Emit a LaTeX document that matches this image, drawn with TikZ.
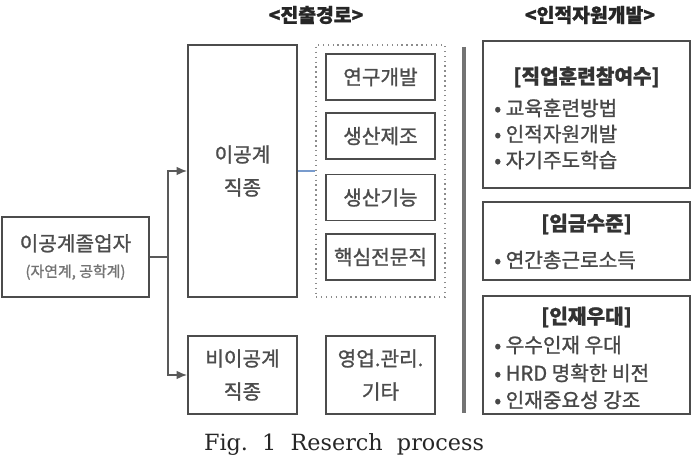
\documentclass[tikz,border=0pt]{standalone}
\usepackage{fontspec}
\setmainfont{Noto Sans CJK KR}[FakeBold=1.2]
\newfontfamily\capfont{DejaVu Serif}
\usetikzlibrary{arrows.meta}
\definecolor{linkblue}{RGB}{120,155,205}

\begin{document}
\begin{tikzpicture}
[
    x=0.02cm, y=-0.02cm,
    box/.style={draw=black!70, line width=1pt, inner sep=0pt, align=center,
        text=black!70, font=\fontsize{11.5pt}{18.8pt}\selectfont},
    small box/.style={box, minimum width=2.18cm},
    info box/.style={box, minimum width=4.14cm},
    title/.style={font=\fontsize{11pt}{13pt}\selectfont\bfseries, text=black!85},
    head/.style={font=\fontsize{11.5pt}{14pt}\selectfont\bfseries, text=black!80},
    item/.style={anchor=west, inner sep=0pt, font=\fontsize{11.5pt}{14pt}\selectfont, text=black!72},
    link/.style={draw=black!65, line width=1pt},
]
\useasboundingbox (0,0) rectangle (698,462);

% column titles
\node[title] (routeT) at (316,15) {<진출경로>};
\node[title] (hrdT) at (590,15) {<인적자원개발>};

% graduates and the two job groups
\node[box, minimum width=2.94cm, minimum height=1.6cm] (grad) at (75.5,257)
    {이공계졸업자\\[-4pt]{\fontsize{8.5pt}{10pt}\selectfont\color{black!55}(자연계, 공학계)}};
\node[small box, minimum height=5.04cm] (sci) at (242.5,171) {이공계\\직종};
\node[small box, minimum height=1.56cm] (nonsci) at (242.5,375) {비이공계\\직종};

% career paths
\node[draw=black!45, dotted, line width=0.8pt, minimum width=2.58cm, minimum height=5.04cm] (paths) at (380.5,171) {};
\node[small box, minimum height=0.92cm] (rd) at (380.5,77) {연구개발};
\node[small box, minimum height=0.92cm] (mfg) at (380.5,136) {생산제조};
\node[small box, minimum height=0.92cm] (tech) at (380.5,197.5) {생산기능};
\node[small box, minimum height=0.92cm] (expert) at (380.5,257) {핵심전문직};
\node[small box, minimum height=1.56cm] (sales) at (380.5,375) {영업.관리.\\기타};

\coordinate (fork) at (168,257);
\draw[link] (grad.east) -- (fork);
\draw[link, -{Latex[length=6pt,width=5pt]}] (fork) |- (sci.west);
\draw[link, -{Latex[length=6pt,width=5pt]}] (fork) |- (nonsci.west);
\draw[draw=linkblue, line width=1pt] (sci.east) -- (paths.west);

% divider
\coordinate (divTop) at (464,47);
\coordinate (divBot) at (464,413);
\draw[draw=black!55, line width=2pt] (divTop) -- (divBot);

% human resource development
\node[info box, minimum height=2.94cm] (train) at (586.5,114.5) {};
\node[head] (trainH) at (586.5,77) {[직업훈련참여수]};
\node[item] (train1) at (494,108) {•\ 교육훈련방법};
\node[item] (train2) at (494,134) {•\ 인적자원개발};
\node[item] (train3) at (494,160) {•\ 자기주도학습};

\node[info box, minimum height=1.56cm] (wage) at (586.5,241) {};
\node[head] (wageH) at (586.5,224) {[임금수준]};
\node[item] (wage1) at (494,260) {•\ 연간총근로소득};

\node[info box, minimum height=2.36cm] (talent) at (586.5,355) {};
\node[head] (talentH) at (586.5,317) {[인재우대]};
\node[item] (talent1) at (494,345) {•\ 우수인재 우대};
\node[item] (talent2) at (494,373) {•\ HRD 명확한 비전};
\node[item] (talent3) at (494,400) {•\ 인재중요성 강조};

% caption
\node[font=\capfont\fontsize{12.7pt}{16pt}\selectfont, text=black!85] (cap) at (344,445) {Fig.\ \ 1\ \ Reserch\ \ process};
\end{tikzpicture}
\end{document}
